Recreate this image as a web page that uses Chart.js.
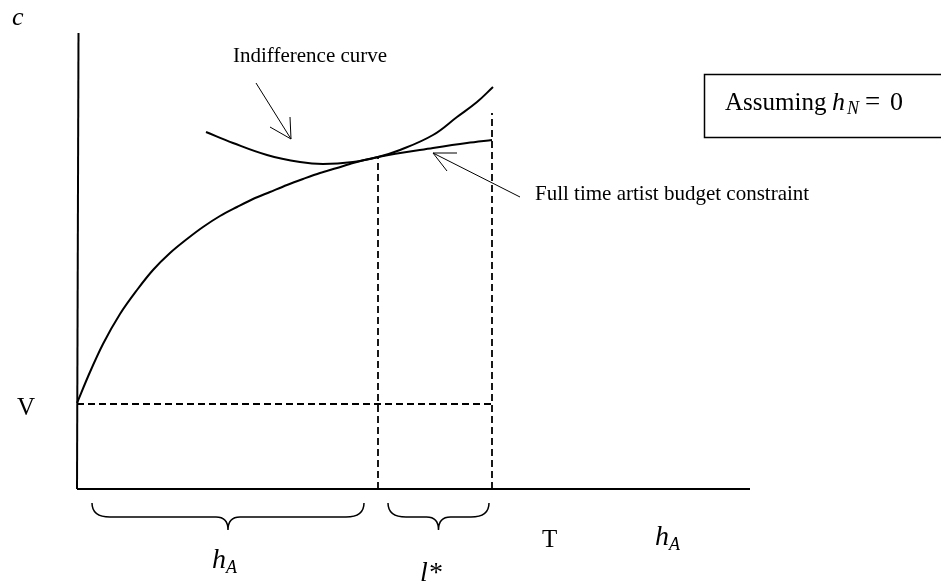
<!DOCTYPE html>
<html><head><meta charset="utf-8">
<style>html,body{margin:0;padding:0;background:#fff}canvas{display:block}</style>
<script src="https://cdn.jsdelivr.net/npm/chart.js@4/dist/chart.umd.min.js"></script>
</head><body>
<canvas id="c" width="941" height="582"></canvas>
<script>
// Abstract units: x = hours of artistic work h_A (0..673), y = consumption c (0..456)
const budgetX = [0, 13, 26, 43, 60, 76, 93, 110, 126, 143, 160, 176, 193, 210, 226, 243, 260, 276, 301, 356, 390, 415];
const budgetY = [86, 117, 145, 175, 199, 219, 236, 250, 262, 273, 282, 290, 297, 304, 310, 316, 321, 326, 332, 341, 346, 349];
const indiffX = [129, 156, 190, 223, 246, 276, 301, 323, 356, 380, 400, 416];
const indiffY = [357, 346, 334, 327, 325, 327, 332, 339, 354, 372, 387, 402];
const V = 85;          // non-artistic income level
const T = 415;         // total time endowment
const lStarX = 301;    // tangency point h_A*
const lStarY = 332;
const tTop = 376;      // top of the T dashed line
const yAxisX = [0, 1.5], yAxisY = [0, 456];
const xAxisX = [0, 673], xAxisY = [0, 0];
const arrow1X = [179, 214], arrow1Y = [406, 350];
const head1X = [193, 214, 213], head1Y = [362, 350, 372];
const arrow2X = [443, 356], arrow2Y = [292, 336];
const head2X = [380, 356, 370], head2Y = [336, 336, 318];
const braces = [[15, 287], [311, 412]];

const zip = (xs, ys) => xs.map((x, i) => ({x, y: ys[i]}));
const solid = (data, w, extra) => Object.assign({data, borderColor: '#000', borderWidth: w, pointRadius: 0, fill: false, clip: false, tension: 0}, extra || {});
const dash = [7, 4];

const serif = '"Liberation Serif", "Times New Roman", serif';

const deco = {
  id: 'deco',
  beforeDraw(chart) {
    const c = chart.ctx; c.save(); c.fillStyle = '#fff'; c.fillRect(0, 0, chart.width, chart.height); c.restore();
  },
  afterDatasetsDraw(chart) {
    const c = chart.ctx, xs = chart.scales.x, ys = chart.scales.y;
    c.save();
    c.fillStyle = '#000'; c.strokeStyle = '#000';
    c.textBaseline = 'alphabetic'; c.textAlign = 'left';
    // axis label c
    c.font = 'italic 26px ' + serif; c.fillText('c', 12, 25);
    // annotations
    c.font = '21px ' + serif;
    c.fillText('Indifference curve', 233, 62);
    c.fillText('Full time artist budget constraint', 535, 200);
    // box
    c.lineWidth = 1.5;
    c.strokeRect(704.5, 74.5, 260, 63);
    const by = 110;
    c.font = '25px ' + serif; c.fillText('Assuming', 725, by);
    c.font = 'italic 26px ' + serif; c.fillText('h', 832, by);
    c.font = 'italic 18px ' + serif; c.fillText('N', 847, by + 4);
    c.font = '27px ' + serif; c.fillText('=', 865, by);
    c.font = '26px ' + serif; c.fillText('0', 890, by);
    // V and T
    c.font = '25px ' + serif;
    c.fillText('V', 17, ys.getPixelForValue(V) + 11);
    c.fillText('T', 542, 547);
    // h_A labels
    const hA = (px, py) => {
      c.font = 'italic 28px ' + serif; c.fillText('h', px, py);
      const w = c.measureText('h').width;
      c.font = 'italic 18px ' + serif; c.fillText('A', px + w, py + 5);
    };
    hA(212, 568);
    hA(655, 545);
    c.font = 'italic 28px ' + serif; c.fillText('l*', 420, 581);
    // braces
    c.lineWidth = 1.5;
    const y0 = ys.getPixelForValue(0) + 14;
    braces.forEach(([a, b]) => {
      const x1 = xs.getPixelForValue(a), x2 = xs.getPixelForValue(b), m = (x1 + x2) / 2;
      const h = 14, r = 18, t = 13;
      c.beginPath();
      c.moveTo(x1, y0); c.quadraticCurveTo(x1, y0 + h, x1 + r, y0 + h);
      c.lineTo(m - 12, y0 + h); c.quadraticCurveTo(m, y0 + h, m, y0 + h + t);
      c.moveTo(x2, y0); c.quadraticCurveTo(x2, y0 + h, x2 - r, y0 + h);
      c.lineTo(m + 12, y0 + h); c.quadraticCurveTo(m, y0 + h, m, y0 + h + t);
      c.stroke();
    });
    c.restore();
  }
};

new Chart(document.getElementById('c'), {
  type: 'line',
  data: {
    datasets: [
      solid(zip(yAxisX, yAxisY), 2),
      solid(zip(xAxisX, xAxisY), 2),
      solid(zip([0, T], [V, V]), 1.8, {borderDash: dash}),
      solid(zip([lStarX, lStarX], [0, lStarY]), 1.8, {borderDash: dash}),
      solid(zip([T, T], [0, tTop]), 1.8, {borderDash: dash}),
      solid(zip(budgetX, budgetY), 2, {cubicInterpolationMode: 'monotone'}),
      solid(zip(indiffX, indiffY), 2, {tension: 0.4}),
      solid(zip(arrow1X, arrow1Y), 1),
      solid(zip(head1X, head1Y), 1),
      solid(zip(arrow2X, arrow2Y), 1),
      solid(zip(head2X, head2Y), 1)
    ]
  },
  options: {
    responsive: false,
    devicePixelRatio: 1,
    animation: false,
    events: [],
    layout: {padding: {left: 77, top: 33, right: 191, bottom: 93}},
    plugins: {legend: {display: false}, tooltip: {enabled: false}},
    scales: {
      x: {type: 'linear', min: 0, max: 673, display: false},
      y: {type: 'linear', min: 0, max: 456, display: false}
    }
  },
  plugins: [deco]
});
</script>
</body></html>
